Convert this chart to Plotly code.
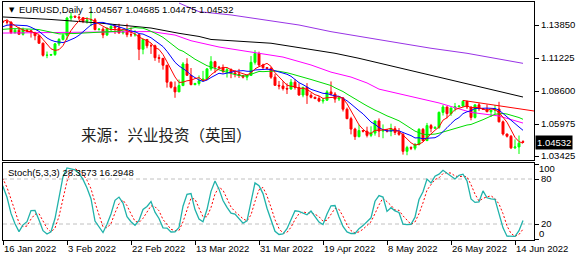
import plotly.graph_objects as go
import pandas as pd

# ---------------- data (bar index: 0 = 16 Jan 2022, Sunday bars included) ----------------
bar_index = list(range(-19, 131))
opens = [1.1330,1.1320,1.1322,1.1328,1.1310,1.1350,1.1325,1.1370,1.1365,1.1296,1.1288,1.1312,1.1296,1.1360,1.1355,1.1326,1.1369,1.1442,1.1455,
         1.1412,1.1410,1.1408,1.1325,1.1344,1.1311,1.1345,1.1340,1.1325,1.1300,1.1240,1.1144,1.1145,1.1150,1.1235,1.1270,1.1303,1.1440,1.1455,1.1448,
         1.1442,1.1415,1.1424,1.1426,1.1349,1.1352,1.1306,1.1357,1.1374,1.1362,1.1322,1.1330,1.1308,1.1307,1.1308,1.1192,1.1270,1.1220,1.1220,1.1125,
         1.1120,1.1065,1.0930,1.0890,1.0853,1.0903,1.1075,1.0985,1.0911,1.0920,1.0941,1.0956,1.1036,1.1093,1.1050,1.1045,1.1016,1.1030,1.1004,1.0995,
         1.0983,1.0970,1.0984,1.1088,1.1158,1.1067,1.1046,1.1040,1.0970,1.0905,1.0900,1.0880,1.0876,1.0930,1.0888,1.0828,1.0889,1.0826,1.0810,1.0800,
         1.0780,1.0787,1.0853,1.0836,1.0796,1.0805,1.0715,1.0640,1.0557,1.0497,1.0545,1.0540,1.0507,1.0525,1.0622,1.0541,1.0550,1.0540,1.0560,1.0530,
         1.0515,1.0380,1.0410,1.0405,1.0435,1.0555,1.0465,1.0585,1.0563,1.0570,1.0690,1.0733,1.0680,1.0725,1.0735,1.0740,1.0778,1.0733,1.0650,1.0750,
         1.0719,1.0715,1.0695,1.0707,1.0717,1.0615,1.0518,1.0500,1.0408,1.0415,1.04567]
highs = [1.1340,1.1330,1.1333,1.1340,1.1367,1.1369,1.1386,1.1375,1.1378,1.1322,1.1347,1.1330,1.1365,1.1362,1.1365,1.1375,1.1454,1.1482,1.1464,
         1.1418,1.1429,1.1414,1.1357,1.1369,1.1364,1.1350,1.1343,1.1331,1.1300,1.1245,1.1174,1.1155,1.1241,1.1281,1.1317,1.1450,1.1483,1.1460,1.1461,
         1.1448,1.1448,1.1495,1.1440,1.1360,1.1367,1.1368,1.1395,1.1390,1.1395,1.1340,1.1395,1.1366,1.1344,1.1310,1.1274,1.1270,1.1238,1.1229,1.1150,
         1.1122,1.1067,1.0935,1.0936,1.0951,1.1090,1.1121,1.1043,1.0925,1.0984,1.1020,1.1043,1.1137,1.1100,1.1060,1.1071,1.1046,1.1040,1.1025,1.1036,
         1.0985,1.0990,1.1138,1.1185,1.1173,1.1077,1.1050,1.1052,1.0996,1.0940,1.0937,1.0921,1.0955,1.0953,1.0921,1.0893,1.0923,1.0843,1.0815,1.0820,
         1.0805,1.0867,1.0936,1.0851,1.0820,1.0812,1.0728,1.0655,1.0568,1.0593,1.0550,1.0576,1.0579,1.0624,1.0642,1.0594,1.0555,1.0600,1.0580,1.0565,
         1.0530,1.0424,1.0420,1.0445,1.0564,1.0566,1.0606,1.0598,1.0580,1.0697,1.0749,1.0737,1.0728,1.0765,1.0745,1.0787,1.0780,1.0736,1.0750,1.0765,
         1.0725,1.0753,1.0710,1.0748,1.0774,1.0625,1.0520,1.0510,1.0475,1.0506,1.04685]
lows = [1.1315,1.1315,1.1305,1.1299,1.1272,1.1301,1.1320,1.1360,1.1284,1.1273,1.1286,1.1285,1.1290,1.1350,1.1286,1.1312,1.1361,1.1429,1.1399,
        1.1405,1.1388,1.1313,1.1315,1.1311,1.1301,1.1336,1.1285,1.1264,1.1236,1.1134,1.1121,1.1140,1.1139,1.1219,1.1262,1.1267,1.1415,1.1440,1.1422,
        1.1400,1.1396,1.1375,1.1342,1.1340,1.1280,1.1297,1.1334,1.1314,1.1316,1.1310,1.1288,1.1290,1.1293,1.1106,1.1152,1.1200,1.1155,1.1100,1.1085,
        1.1030,1.0887,1.0880,1.0806,1.0852,1.0899,1.0981,1.0905,1.0905,1.0903,1.0940,1.0951,1.1021,1.1004,1.1040,1.1000,1.0967,1.0962,1.0969,1.0964,
        1.0960,1.0945,1.0983,1.1070,1.1054,1.1027,1.1030,1.0957,1.0903,1.0873,1.0864,1.0836,1.0870,1.0871,1.0822,1.0810,1.0757,1.0801,1.0795,1.0771,
        1.0760,1.0781,1.0823,1.0767,1.0780,1.0697,1.0636,1.0515,1.0471,1.0491,1.0530,1.0491,1.0493,1.0505,1.0493,1.0484,1.0530,1.0500,1.0510,1.0504,
        1.0354,1.0349,1.0390,1.0389,1.0427,1.0460,1.0463,1.0531,1.0560,1.0558,1.0665,1.0643,1.0662,1.0698,1.0730,1.0735,1.0717,1.0627,1.0641,1.0702,
        1.0710,1.0692,1.0653,1.0675,1.0610,1.0506,1.0490,1.0398,1.0398,1.0359,1.04475]
closes = [1.1320,1.1322,1.1328,1.1310,1.1350,1.1325,1.1370,1.1365,1.1296,1.1288,1.1312,1.1296,1.1360,1.1355,1.1326,1.1369,1.1442,1.1455,1.1412,
          1.1410,1.1408,1.1325,1.1344,1.1311,1.1345,1.1340,1.1325,1.1300,1.1240,1.1144,1.1145,1.1150,1.1235,1.1270,1.1303,1.1440,1.1455,1.1448,1.1442,
          1.1415,1.1424,1.1426,1.1349,1.1352,1.1306,1.1357,1.1374,1.1362,1.1322,1.1330,1.1308,1.1307,1.1308,1.1192,1.1270,1.1220,1.1220,1.1125,1.1120,
          1.1065,1.0930,1.0890,1.0853,1.0903,1.1075,1.0985,1.0911,1.0920,1.0941,1.0956,1.1036,1.1093,1.1050,1.1045,1.1016,1.1030,1.1004,1.0995,1.0983,
          1.0970,1.0984,1.1088,1.1158,1.1067,1.1046,1.1040,1.0970,1.0905,1.0900,1.0880,1.0876,1.0930,1.0888,1.0828,1.0889,1.0826,1.0810,1.0800,1.0780,
          1.0787,1.0853,1.0836,1.0796,1.0805,1.0715,1.0640,1.0557,1.0497,1.0545,1.0540,1.0507,1.0525,1.0622,1.0541,1.0550,1.0540,1.0560,1.0530,1.0515,
          1.0380,1.0410,1.0405,1.0435,1.0555,1.0465,1.0585,1.0563,1.0570,1.0690,1.0733,1.0680,1.0725,1.0735,1.0740,1.0778,1.0733,1.0650,1.0750,1.0719,
          1.0715,1.0695,1.0707,1.0717,1.0615,1.0518,1.0500,1.0408,1.0415,1.0445,1.04532]

# slow moving averages (bar index, price)
ma50_idx = [0, 16, 24, 37, 43, 47, 49, 54, 62, 70, 77, 82, 87, 91, 94, 99, 109, 117, 124, 130]
ma50_val = [1.1321, 1.1329, 1.1329, 1.1333, 1.1305, 1.1260, 1.1245, 1.1210, 1.1170, 1.1130, 1.1067, 1.1010,
            1.0971, 1.0924, 1.0875, 1.0840, 1.0765, 1.0690, 1.0661, 1.0605]
ma100_idx = [0, 12, 24, 37, 44, 49, 52, 60, 67, 74, 83, 89, 99, 122, 130]
ma100_val = [1.1449, 1.1429, 1.1401, 1.1361, 1.1319, 1.1294, 1.1270, 1.1255, 1.1240, 1.1205, 1.1160, 1.1120,
             1.1045, 1.0876, 1.0812]
ma200_idx = [44, 49, 57, 66, 74, 82, 91, 99, 107, 116, 130]
ma200_val = [1.1560, 1.1491, 1.1465, 1.1425, 1.1385, 1.1332, 1.1287, 1.1242, 1.1200, 1.1160, 1.1080]

trend_idx = [115, 132.75]
trend_val = [1.0785, 1.0701]

price_ticks = [1.13850, 1.11225, 1.08600, 1.05975, 1.03425]
date_tick_idx = [0, 16, 32, 48, 64, 80, 96, 112, 128]
date_tick_txt = ["16 Jan 2022", "3 Feb 2022", "22 Feb 2022", "13 Mar 2022", "31 Mar 2022",
                 "19 Apr 2022", "8 May 2022", "26 May 2022", "14 Jun 2022"]
stoch_label = "Stoch(5,3,3) 28.3573 16.2948"
watermark = "来源：兴业投资（英国）"

# ---------------- indicators ----------------
df = pd.DataFrame(dict(o=opens, h=highs, l=lows, c=closes), index=bar_index)
ma5 = df.c.rolling(5).mean()
ma10 = df.c.rolling(10).mean()
ma20 = df.c.rolling(20).mean()
hh = df.h.rolling(5).max()
ll = df.l.rolling(5).min()
stk = 100 * (df.c - ll).rolling(3).sum() / (hh - ll).rolling(3).sum()
std = stk.rolling(3).mean()

v = df[df.index >= -2]
xs = list(v.index)

FONT = "Liberation Sans"
fig = go.Figure()

for idx, val, col in [(ma200_idx, ma200_val, "#9933e6"), (ma100_idx, ma100_val, "#000000"),
                      (ma50_idx, ma50_val, "#ff00ff")]:
    fig.add_trace(go.Scatter(x=idx, y=val, mode="lines", line=dict(color=col, width=1), xaxis="x", yaxis="y"))
fig.add_trace(go.Scatter(x=trend_idx, y=trend_val, mode="lines", line=dict(color="#ff0000", width=1), xaxis="x", yaxis="y"))
for s, col in [(ma20, "#00dd00"), (ma10, "#0000ff"), (ma5, "#ff0000")]:
    fig.add_trace(go.Scatter(x=xs, y=s.loc[xs].tolist(), mode="lines", line=dict(color=col, width=1), xaxis="x", yaxis="y"))

fig.add_trace(go.Candlestick(
    x=xs, open=v.o, high=v.h, low=v.l, close=v.c, xaxis="x", yaxis="y", whiskerwidth=0,
    increasing=dict(line=dict(color="#00ff00", width=1), fillcolor="#00ff00"),
    decreasing=dict(line=dict(color="#ff0000", width=1), fillcolor="#ff0000")))

fig.add_trace(go.Scatter(x=xs, y=std.loc[xs].tolist(), mode="lines", xaxis="x2", yaxis="y2",
                         line=dict(color="#ff0000", width=1, dash="2px,2px")))
fig.add_trace(go.Scatter(x=xs, y=stk.loc[xs].tolist(), mode="lines", xaxis="x2", yaxis="y2",
                         line=dict(color="#20b2aa", width=1.3)))

for lv in (80, 20):
    fig.add_shape(type="line", xref="paper", x0=0, x1=1, yref="y2", y0=lv, y1=lv,
                  line=dict(color="#c0c0c0", width=1, dash="4px,3px"), layer="below")

PH = 238.0
main_dom = [(240 - 160) / PH, 1.0]
st_dom = [0.0, (240 - 163) / PH]
XR = [0, 132.75]
axis_common = dict(showgrid=False, zeroline=False, showline=True, mirror=True, linecolor="black", linewidth=1)
tf = dict(family=FONT, size=9.5, color="black")

fig.update_layout(
    width=580, height=260, margin=dict(l=3, r=46, t=2, b=20),
    paper_bgcolor="white", plot_bgcolor="white", showlegend=False,
    xaxis=dict(domain=[0, 1], anchor="y", range=XR, showticklabels=False, ticks="",
               rangeslider=dict(visible=False), **axis_common),
    yaxis=dict(domain=main_dom, anchor="x", range=[1.03111, 1.15680], side="right",
               tickvals=price_ticks, ticktext=[f"{p:.5f}" for p in price_ticks],
               ticks="outside", ticklen=4, tickcolor="black", tickfont=tf, **axis_common),
    xaxis2=dict(domain=[0, 1], anchor="y2", range=XR, matches="x", tickvals=date_tick_idx,
                ticktext=date_tick_txt, ticks="outside", ticklen=4, tickcolor="black",
                ticklabelposition="outside right", tickfont=tf, **axis_common),
    yaxis2=dict(domain=st_dom, anchor="x2", range=[-1.33, 101.33], side="right",
                tickvals=[100, 80, 20, 0], ticktext=["", "80", "20", ""], ticks="outside", ticklen=4,
                tickcolor="black", tickfont=tf, **axis_common),
)

def px_x(p):
    return (p - 3) / 531.0

def px_y(p):
    return (240 - p) / PH

title = f"EURUSD,Daily  {opens[-1]:.5f} {highs[-1]:.5f} {lows[-1]:.5f} {closes[-1]:.5f}"
fig.add_annotation(x=px_x(7), y=px_y(10), xref="paper", yref="paper", text="▼", showarrow=False,
                   xanchor="left", yanchor="middle", font=dict(family="DejaVu Sans", size=7, color="black"))
fig.add_annotation(x=px_x(17), y=px_y(10), xref="paper", yref="paper", text=title, showarrow=False,
                   xanchor="left", yanchor="middle", font=tf)
fig.add_annotation(x=px_x(6), y=px_y(172), xref="paper", yref="paper", text=stoch_label, showarrow=False,
                   xanchor="left", yanchor="middle", font=tf)
fig.add_annotation(x=px_x(166), y=px_y(134), xref="paper", yref="paper", text=watermark, showarrow=False,
                   xanchor="center", yanchor="middle",
                   font=dict(family="Noto Sans CJK SC", size=15.5, color="#222222"))
fig.add_annotation(x=px_x(535), y=closes[-1], xref="paper", yref="y", text=f"{closes[-1]:.5f}",
                   showarrow=False, xanchor="left", yanchor="middle", bgcolor="black",
                   font=dict(family=FONT, size=9.5, color="white"), borderpad=1)
fig.add_annotation(x=px_x(537), y=px_y(168), xref="paper", yref="paper", text="100", showarrow=False,
                   xanchor="left", yanchor="middle", font=tf)
fig.add_annotation(x=px_x(537), y=px_y(233), xref="paper", yref="paper", text="0", showarrow=False,
                   xanchor="left", yanchor="middle", font=tf)

fig.write_html("out.html")
